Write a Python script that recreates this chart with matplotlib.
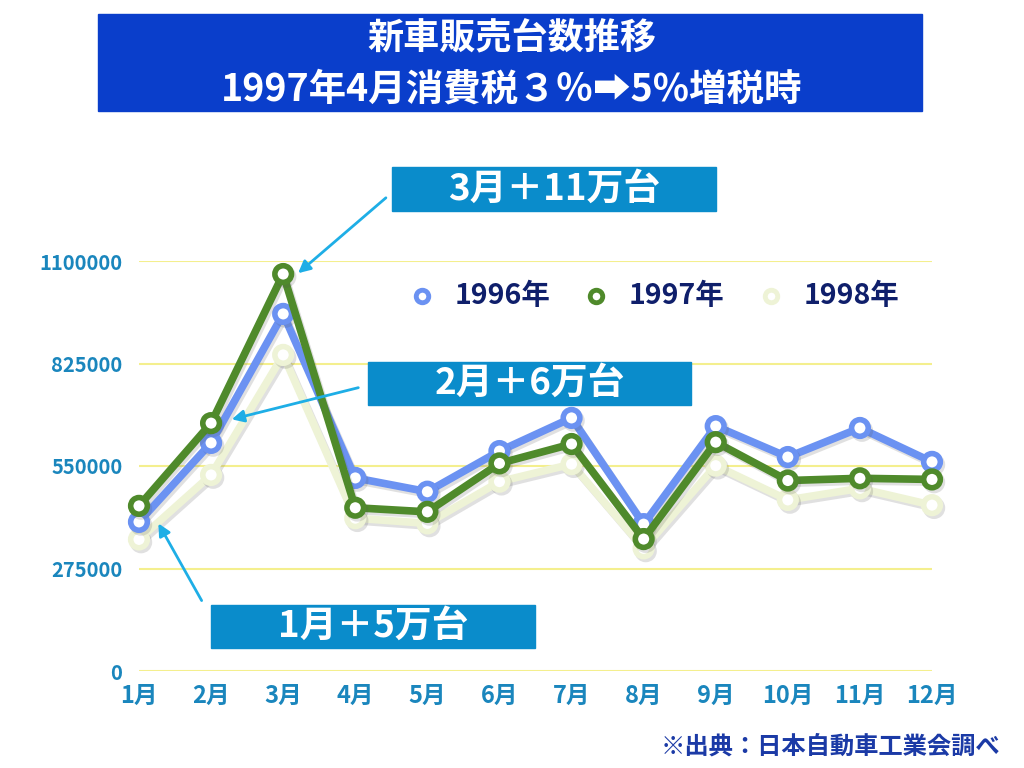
import matplotlib
matplotlib.use("Agg")
import matplotlib.pyplot as plt
import matplotlib.patheffects as pe
from matplotlib.patches import Rectangle

plt.rcParams['font.family'] = ['Noto Sans CJK JP', 'DejaVu Sans']

months = ['1月', '2月', '3月', '4月', '5月', '6月', '7月', '8月', '9月', '10月', '11月', '12月']
sales_1996 = [400000, 612000, 958000, 518000, 481000, 590000, 679000, 394000, 657000, 574000, 652000, 561000]
sales_1997 = [443000, 665000, 1065000, 438000, 427000, 557000, 609000, 354000, 614000, 511000, 517000, 514000]
sales_1998 = [353000, 526000, 848000, 410000, 396000, 508000, 555000, 329000, 551000, 459000, 490000, 445000]
years = ['1996年', '1997年', '1998年']
yticks = [0, 275000, 550000, 825000, 1100000]

colors = ['#6b92f2', '#4f8a2b', '#eef3d6']
W, H = 1024, 768

fig = plt.figure(figsize=(W / 100, H / 100), dpi=100)
ax = fig.add_axes([139 / W, 1 - 671 / H, (932 - 139) / W, (671 - 261) / H])

x = list(range(len(months)))
shadow = [pe.SimpleLineShadow(offset=(1.5, -2), alpha=0.18, shadow_color='#555555'), pe.Normal()]
for vals, col in zip([sales_1998, sales_1996, sales_1997], [colors[2], colors[0], colors[1]]):
    ax.plot(x, vals, color=col, lw=5.5, marker='o', ms=12, mfc='white', mec=col, mew=4,
            clip_on=False, zorder=3, path_effects=shadow, solid_joinstyle='round')

ax.set_xlim(0, 11)
ax.set_ylim(0, 1100000)
ax.set_yticks(yticks)
ax.set_yticklabels([str(v) for v in yticks], fontsize=14.5, fontweight='bold', color='#1a86bd')
ax.set_xticks(x)
ax.set_xticklabels(months, fontsize=17, fontweight='bold', color='#1a86bd')
ax.tick_params(length=0, axis='y', pad=12)
ax.tick_params(length=0, axis='x', pad=9)
ax.grid(axis='y', color='#f4ef8e', lw=1.5)
ax.set_axisbelow(True)
for s in ax.spines.values():
    s.set_visible(False)

# legend drawn manually to match the layout
leg_x = [422, 596, 771]
for lx, col, lab in zip(leg_x, colors, years):
    fig.lines.append(plt.Line2D([lx / W], [1 - 296 / H], marker='o', ms=9, mfc='white', mec=col,
                                mew=3.5, transform=fig.transFigure, figure=fig))
    fig.text((lx + 33) / W, 1 - 296 / H, lab, fontsize=20.5, fontweight='bold', color='#0f1f6b',
             va='center', ha='left')

# title box
fig.patches.append(Rectangle((98 / W, 1 - 111 / H), (922 - 98) / W, (111 - 14) / H,
                             transform=fig.transFigure, color='#0a3ecb', zorder=0))
fig.text(512 / W, 1 - 39 / H, '新車販売台数推移', fontsize=26, fontweight='bold', color='white',
         ha='center', va='center')
fig.text(512 / W, 1 - 89 / H, '1997年4月消費税３％➡5%増税時', fontsize=27, fontweight='bold',
         color='white', ha='center', va='center')

# callout boxes
boxes = [((392, 167, 716, 211), '3月＋11万台', (388, 196), (296, 275)),
         ((368, 362, 691, 405), '2月＋6万台', (361, 387), (229, 420)),
         ((211, 605, 535, 648), '1月＋5万台', (203, 603), (157, 521))]
for (x0, y0, x1, y1), txt, start, end in boxes:
    fig.patches.append(Rectangle((x0 / W, 1 - y1 / H), (x1 - x0) / W, (y1 - y0) / H,
                                 transform=fig.transFigure, color='#0a8ccb', zorder=5))
    fig.text((x0 + x1) / 2 / W, 1 - (y0 + y1) / 2 / H, txt, fontsize=26.5, fontweight='bold',
             color='white', ha='center', va='center', zorder=6)
    ax.annotate('', xy=(end[0], H - end[1]), xytext=(start[0], H - start[1]),
                xycoords='figure pixels', textcoords='figure pixels',
                arrowprops=dict(arrowstyle='-|>', color='#1eaee6', lw=2, mutation_scale=18),
                annotation_clip=False)

fig.text(1000 / W, 1 - 747 / H, '※出典：日本自動車工業会調べ', fontsize=17.5, fontweight='bold',
         color='#1b3aa6', ha='right', va='center')

fig.savefig('out.png', dpi=100)
